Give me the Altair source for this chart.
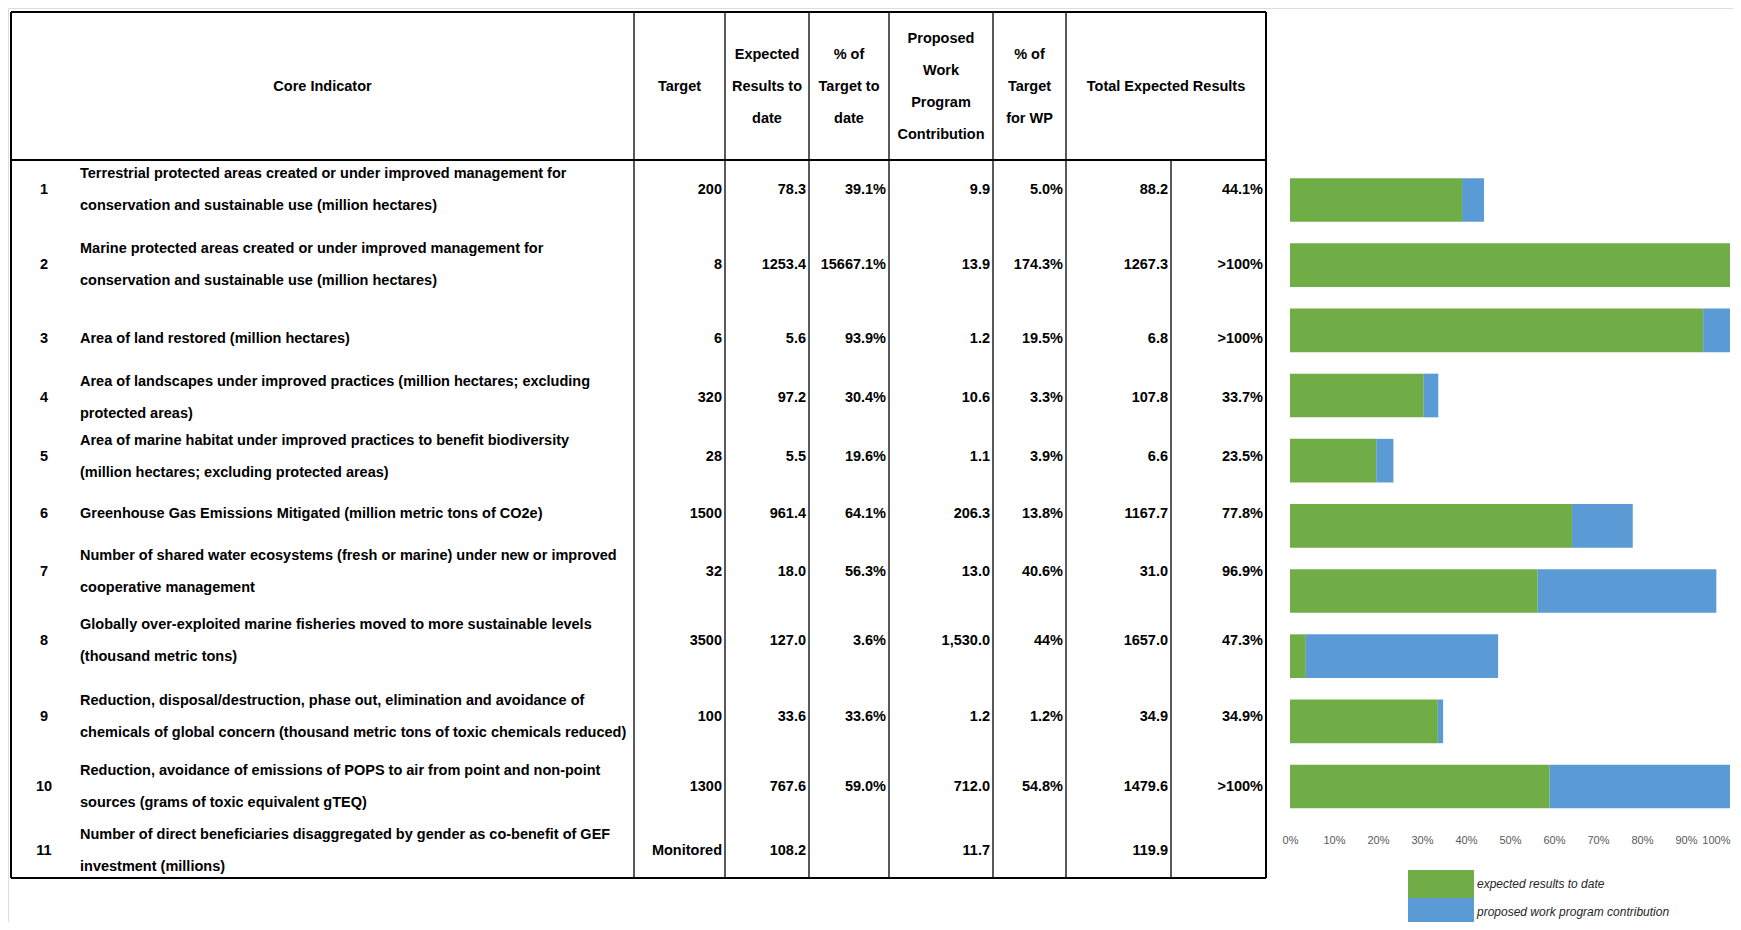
import altair as alt
import pandas as pd

FONT = "Liberation Sans"
FS = 14.5
FW = "bold"

# ---------------- data ----------------
row_no = [str(i) for i in range(1, 12)]
desc_line1 = [
    "Terrestrial protected areas created or under improved management for",
    "Marine protected areas created or under improved management for",
    "Area of land restored (million hectares)",
    "Area of landscapes under improved practices (million hectares; excluding",
    "Area of marine habitat under improved practices to benefit biodiversity",
    "Greenhouse Gas Emissions Mitigated (million metric tons of CO2e)",
    "Number of shared water ecosystems (fresh or marine) under new or improved",
    "Globally over-exploited marine fisheries moved to more sustainable levels",
    "Reduction, disposal/destruction, phase out, elimination and avoidance of",
    "Reduction, avoidance of emissions of POPS to air from point and non-point",
    "Number of direct beneficiaries disaggregated by gender as co-benefit of GEF",
]
desc_line2 = [
    "conservation and sustainable use (million hectares)",
    "conservation and sustainable use (million hectares)",
    "",
    "protected areas)",
    "(million hectares; excluding protected areas)",
    "",
    "cooperative management",
    "(thousand metric tons)",
    "chemicals of global concern (thousand metric tons of toxic chemicals reduced)",
    "sources (grams of toxic equivalent gTEQ)",
    "investment  (millions)",
]
target = ["200", "8", "6", "320", "28", "1500", "32", "3500", "100", "1300", "Monitored"]
expected = ["78.3", "1253.4", "5.6", "97.2", "5.5", "961.4", "18.0", "127.0", "33.6", "767.6", "108.2"]
pct_to_date = ["39.1%", "15667.1%", "93.9%", "30.4%", "19.6%", "64.1%", "56.3%", "3.6%", "33.6%", "59.0%", ""]
wp_contrib = ["9.9", "13.9", "1.2", "10.6", "1.1", "206.3", "13.0", "1,530.0", "1.2", "712.0", "11.7"]
pct_wp = ["5.0%", "174.3%", "19.5%", "3.3%", "3.9%", "13.8%", "40.6%", "44%", "1.2%", "54.8%", ""]
total = ["88.2", "1267.3", "6.8", "107.8", "6.6", "1167.7", "31.0", "1657.0", "34.9", "1479.6", "119.9"]
pct_total = ["44.1%", ">100%", ">100%", "33.7%", "23.5%", "77.8%", "96.9%", "47.3%", "34.9%", ">100%", ""]

header_labels = [
    ["Core Indicator"],
    ["Target"],
    ["Expected", "Results to", "date"],
    ["% of", "Target to", "date"],
    ["Proposed", "Work", "Program", "Contribution"],
    ["% of", "Target", "for WP"],
    ["Total Expected Results"],
]

# bar chart values (% of target)
bar_rows = list(range(1, 11))
bar_to_date = [39.1, 15667.1, 93.9, 30.4, 19.6, 64.1, 56.3, 3.6, 33.6, 59.0]
bar_wp = [5.0, 174.3, 19.5, 3.3, 3.9, 13.8, 40.6, 43.7, 1.2, 54.8]
series_names = ["expected results to date", "proposed work program contribution"]
series_colors = ["#70AD47", "#5B9BD5"]

# ---------------- table layout (page pixels) ----------------
col_edges = [11, 634, 725, 809, 889, 993, 1066, 1266]
total_split = 1171
table_top, header_bottom, table_bottom = 12, 160, 878
header_mid, line_gap = 87, 32
row_centers = [190, 265, 339, 398, 457, 514, 572, 641, 717, 787, 851]
num_x, desc_x, cell_pad = 44, 80, 3

W, H = 1725, 914
xs = alt.Scale(domain=[8, 8 + W])
ys = alt.Scale(domain=[8, 8 + H], reverse=True)

# rules
rules = []
for yv in (table_top, header_bottom, table_bottom):
    rules.append(dict(x=col_edges[0], x2=col_edges[-1], y=yv, y2=yv, w=2.0))
for i, xv in enumerate(col_edges):
    outer = i in (0, len(col_edges) - 1)
    rules.append(dict(x=xv, x2=xv, y=table_top, y2=table_bottom, w=2.0 if outer else 1.3))
rules.append(dict(x=total_split, x2=total_split, y=header_bottom, y2=table_bottom, w=1.3))
rules_df = pd.DataFrame(rules)

# text cells
center_cells, left_cells, right_cells = [], [], []
for i, lines in enumerate(header_labels):
    cx = (col_edges[i] + col_edges[i + 1]) / 2
    n = len(lines)
    for k, t in enumerate(lines):
        center_cells.append(dict(x=cx, y=header_mid + (k - (n - 1) / 2) * line_gap, t=t))

value_cols = [target, expected, pct_to_date, wp_contrib, pct_wp, total, pct_total]
value_right = col_edges[2:7] + [total_split, col_edges[7]]
for r in range(11):
    yc = row_centers[r]
    center_cells.append(dict(x=num_x, y=yc, t=row_no[r]))
    if desc_line2[r]:
        left_cells.append(dict(x=desc_x, y=yc - line_gap / 2, t=desc_line1[r]))
        left_cells.append(dict(x=desc_x, y=yc + line_gap / 2, t=desc_line2[r]))
    else:
        left_cells.append(dict(x=desc_x, y=yc, t=desc_line1[r]))
    for col, xr in zip(value_cols, value_right):
        if col[r]:
            right_cells.append(dict(x=xr - cell_pad, y=yc, t=col[r]))


def text_layer(cells, align):
    return alt.Chart(pd.DataFrame(cells)).mark_text(
        align=align, baseline="middle", font=FONT, fontSize=FS, fontWeight=FW, color="#000000"
    ).encode(
        x=alt.X("x:Q", scale=xs, axis=None),
        y=alt.Y("y:Q", scale=ys, axis=None),
        text="t:N",
    )


rule_layer = alt.Chart(rules_df).mark_rule(color="#000000").encode(
    x=alt.X("x:Q", scale=xs, axis=None),
    x2="x2:Q",
    y=alt.Y("y:Q", scale=ys, axis=None),
    y2="y2:Q",
    strokeWidth=alt.StrokeWidth("w:Q", scale=None),
)

table = alt.layer(
    rule_layer,
    text_layer(center_cells, "center"),
    text_layer(left_cells, "left"),
    text_layer(right_cells, "right"),
)

# ---------------- bars ----------------
bar_records = []
for r, td, wp in zip(bar_rows, bar_to_date, bar_wp):
    g = min(td, 100.0) / 100
    b = min(td + wp, 100.0) / 100
    bar_records.append(dict(row=r, series=series_names[0], start=0.0, end=g))
    bar_records.append(dict(row=r, series=series_names[1], start=g, end=b))
bars_df = pd.DataFrame(bar_records)

bars = alt.Chart(bars_df).mark_bar().encode(
    x=alt.X(
        "start:Q",
        scale=alt.Scale(domain=[0, 1], range=[1282, 1722]),
        axis=alt.Axis(
            format=".0%",
            values=[i / 10 for i in range(11)],
            grid=False,
            domain=False,
            ticks=False,
            tickSize=0,
            labelFlush=False,
            labelAlign={"condition": {"test": "datum.value >= 1", "value": "right"}, "value": "center"},
            labelPadding=0,
            offset=-88,
            labelFont=FONT,
            labelFontSize=11,
            labelColor="#595959",
            title=None,
        ),
    ),
    x2="end:Q",
    y=alt.Y(
        "row:O",
        scale=alt.Scale(domain=bar_rows, range=[159.4, 811.1], paddingInner=0.33, paddingOuter=0.165),
        axis=None,
    ),
    color=alt.Color(
        "series:N",
        scale=alt.Scale(domain=series_names, range=series_colors),
        legend=alt.Legend(
            orient="none",
            legendX=1400,
            legendY=862,
            title=None,
            symbolType="M-1,-1H3.714V1H-1Z",
            symbolSize=784,
            symbolStrokeWidth=0,
            symbolOpacity=1,
            labelOffset=41,
            labelLimit=0,
            rowPadding=0,
            padding=0,
            labelFont=FONT,
            labelFontSize=12,
            labelFontStyle="italic",
            labelColor="#262626",
        ),
    ),
)

chart = (
    alt.layer(table, bars)
    .resolve_scale(x="independent", y="independent")
    .properties(width=W, height=H, padding=0, autosize=alt.AutoSizeParams(type="none"))
    .configure_view(stroke="transparent", strokeWidth=0)
    .configure(background="white")
)

chart.save("out.html", embed_options={"renderer": "svg", "actions": False})
